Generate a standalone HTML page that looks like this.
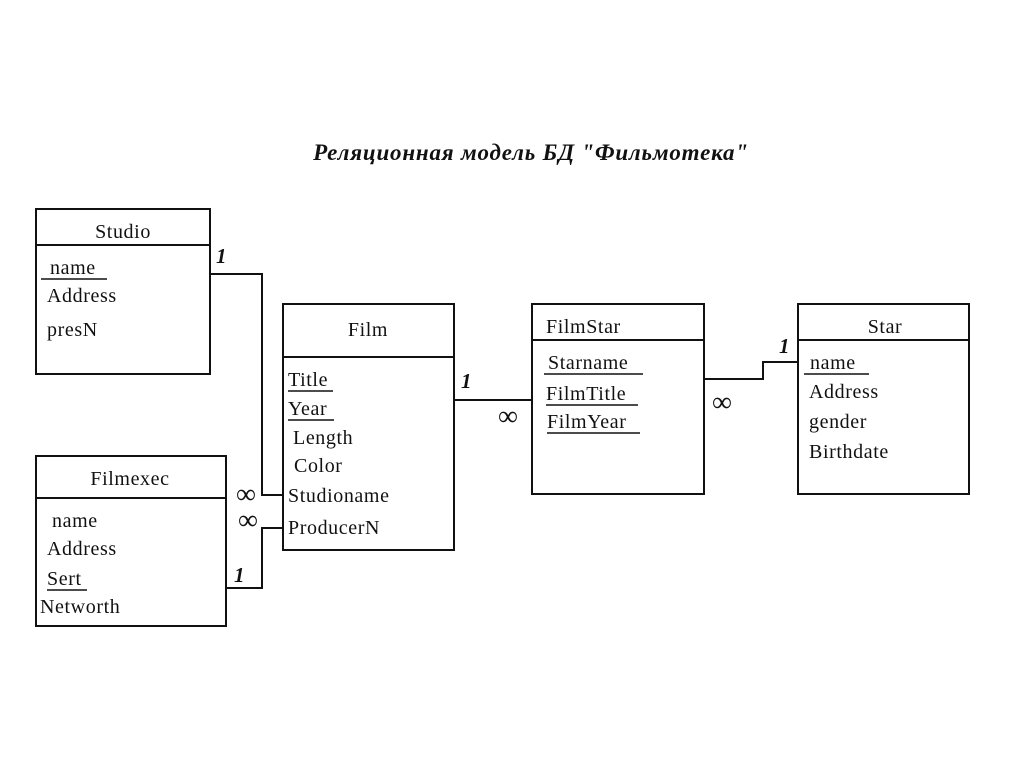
<!DOCTYPE html>
<html><head><meta charset="utf-8"><style>html,body{margin:0;padding:0;background:#fff}svg{display:block}</style></head>
<body>
<svg width="1024" height="767" xmlns="http://www.w3.org/2000/svg" font-family="'Liberation Serif', serif" font-size="20" fill="#111" letter-spacing="0.6">
<rect width="1024" height="767" fill="#fff"/>
<text x="531" y="160" text-anchor="middle" font-style="italic" font-weight="bold" font-size="23" letter-spacing="0.8">Реляционная модель БД "Фильмотека"</text>
<g fill="none" stroke="#111" stroke-width="2">
<rect x="36" y="209" width="174" height="165"/><line x1="36" y1="245" x2="210" y2="245"/>
<rect x="283" y="304" width="171" height="246"/><line x1="283" y1="357" x2="454" y2="357"/>
<rect x="36" y="456" width="190" height="170"/><line x1="36" y1="498" x2="226" y2="498"/>
<rect x="532" y="304" width="172" height="190"/><line x1="532" y1="340" x2="704" y2="340"/>
<rect x="798" y="304" width="171" height="190"/><line x1="798" y1="340" x2="969" y2="340"/>
<polyline points="210,274 262,274 262,495 283,495"/>
<polyline points="226,588 262,588 262,528 283,528"/>
<line x1="454" y1="400" x2="532" y2="400"/>
<polyline points="704,379 763,379 763,362 798,362"/>
</g>
<g stroke="#111" stroke-width="1.6">
<line x1="41" y1="279" x2="107" y2="279"/>
<line x1="288" y1="391" x2="333" y2="391"/>
<line x1="288" y1="420" x2="334" y2="420"/>
<line x1="47" y1="590" x2="87" y2="590"/>
<line x1="544" y1="374" x2="643" y2="374"/>
<line x1="546" y1="405" x2="638" y2="405"/>
<line x1="547" y1="433" x2="640" y2="433"/>
<line x1="804" y1="374" x2="869" y2="374"/>
</g>
<text x="123" y="238" text-anchor="middle">Studio</text>
<text x="50" y="274">name</text><text x="47" y="302">Address</text><text x="47" y="336">presN</text>
<text x="368" y="336" text-anchor="middle">Film</text>
<text x="288" y="386">Title</text><text x="288" y="415">Year</text><text x="293" y="444">Length</text><text x="294" y="472">Color</text><text x="288" y="502">Studioname</text><text x="288" y="534">ProducerN</text>
<text x="130" y="485" text-anchor="middle">Filmexec</text>
<text x="52" y="527">name</text><text x="47" y="555">Address</text><text x="47" y="585">Sert</text><text x="40" y="613">Networth</text>
<text x="546" y="333">FilmStar</text>
<text x="548" y="369">Starname</text><text x="546" y="400">FilmTitle</text><text x="547" y="428">FilmYear</text>
<text x="885" y="333" text-anchor="middle">Star</text>
<text x="810" y="369">name</text><text x="809" y="398">Address</text><text x="809" y="428">gender</text><text x="809" y="458">Birthdate</text>
<g font-style="italic" font-weight="bold" font-size="21">
<text x="216" y="263">1</text><text x="234" y="582">1</text><text x="461" y="388">1</text><text x="779" y="353">1</text>
</g>
<g font-size="28" font-family="'Liberation Serif', serif" letter-spacing="0">
<text x="236" y="503">∞</text><text x="238" y="529">∞</text><text x="498" y="425">∞</text><text x="712" y="411">∞</text>
</g>
</svg>
</body></html>
